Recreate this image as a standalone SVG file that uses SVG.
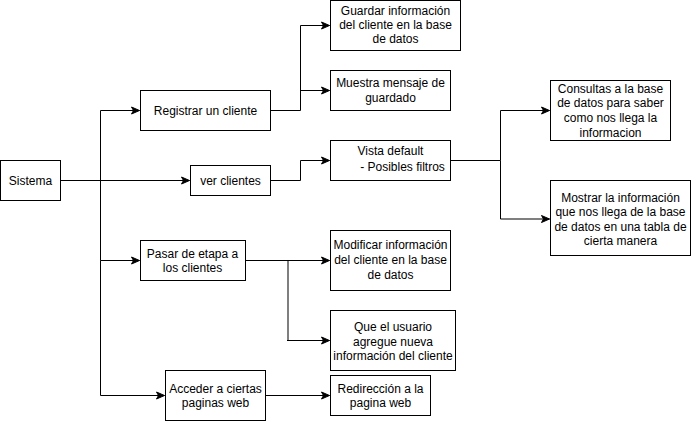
<svg xmlns="http://www.w3.org/2000/svg" width="692" height="421" viewBox="0 0 692 421">
<style>
.box{fill:#fff;stroke:#000;stroke-width:1}
.t{font-family:"Liberation Sans",Arial,sans-serif;font-size:12px;fill:#000;text-anchor:middle}
.c{fill:none;stroke:#000;stroke-width:1}
.g{stroke:#000;stroke-opacity:0.5;stroke-width:2}
</style>
<defs>
<marker id="a" markerUnits="userSpaceOnUse" markerWidth="10" markerHeight="10" refX="9" refY="5" orient="auto">
<path d="M1,1.5 L9,5 L1,8.5 L3,5 Z" fill="#000" stroke="#000" stroke-width="1"/>
</marker>
</defs>
<rect width="692" height="421" fill="#fff"/>
<g id="connectors">
<path class="c" d="M60.5,180.5 H189.5" marker-end="url(#a)"/>
<path class="c" d="M100.5,180.5 V110.5 H139.5" marker-end="url(#a)"/>
<path class="c" d="M100.5,180.5 V260.5 H139.5" marker-end="url(#a)"/>
<path class="c" d="M100.5,260.5 V395.5 H164.5" marker-end="url(#a)"/>
<path class="c" d="M270.5,110.5 H300.5 V25.5 H329.5" marker-end="url(#a)"/>
<path class="c" d="M300.5,90.5 H329.5" marker-end="url(#a)"/>
<path class="c" d="M270.5,180.5 H300.5 V160.5 H329.5" marker-end="url(#a)"/>
<path class="c" d="M450.5,160.5 H500.5 V110.5 H549.5" marker-end="url(#a)"/>
<path class="c" d="M500.5,160.5 V219" />
<path class="c g" d="M500.5,219 H540"/>
<path class="c" d="M540,219 H549.5" marker-end="url(#a)"/>
<path class="c" d="M245.5,260.5 H329.5" marker-end="url(#a)"/>
<path class="c g" d="M288,260.5 V340"/>
<path class="c" d="M287,340.5 H329.5" marker-end="url(#a)"/>
<path class="c" d="M265.5,395.5 H329.5" marker-end="url(#a)"/>
</g>
<g id="sistema"><rect class="box" x="0.5" y="160.5" width="60" height="40"/><text class="t" x="30.5" y="184.5">Sistema</text></g>
<g id="registrar"><rect class="box" x="140.5" y="90.5" width="130" height="40"/><text class="t" x="205.5" y="114.5">Registrar un cliente</text></g>
<g id="ver"><rect class="box" x="190.5" y="165.5" width="80" height="30"/><text class="t" x="230.5" y="184.5">ver clientes</text></g>
<g id="pasar"><rect class="box" x="140.5" y="240.5" width="105" height="40"/><text class="t" x="192.5" y="257.5">Pasar de etapa a</text><text class="t" x="192.5" y="272">los clientes</text></g>
<g id="acceder"><rect class="box" x="165.5" y="370.5" width="100" height="50"/><text class="t" x="215.5" y="392.5">Acceder a ciertas</text><text class="t" x="215.5" y="407">paginas web</text></g>
<g id="guardar"><rect class="box" x="330.5" y="0.5" width="130" height="50"/><text class="t" x="395.5" y="14.5">Guardar información</text><text class="t" x="395.5" y="29">del cliente en la base</text><text class="t" x="395.5" y="43">de datos</text></g>
<g id="muestra"><rect class="box" x="330.5" y="70.5" width="120" height="40"/><text class="t" x="390.5" y="86.5">Muestra mensaje de</text><text class="t" x="390.5" y="102">guardado</text></g>
<g id="vista"><rect class="box" x="330.5" y="140.5" width="120" height="40"/><text class="t" x="390.5" y="154.5">Vista default</text><text class="t" x="402.5" y="170.5">- Posibles filtros</text></g>
<g id="consultas"><rect class="box" x="550.5" y="80.5" width="120" height="60"/><text class="t" x="610.5" y="92.5">Consultas a la base</text><text class="t" x="610.5" y="107">de datos para saber</text><text class="t" x="610.5" y="122">como nos llega la</text><text class="t" x="610.5" y="136.5">informacion</text></g>
<g id="mostrar"><rect class="box" x="550.5" y="180.5" width="140" height="75"/><text class="t" x="620.5" y="201.5">Mostrar la información</text><text class="t" x="620.5" y="216">que nos llega de la base</text><text class="t" x="620.5" y="230.5">de datos en una tabla de</text><text class="t" x="620.5" y="244.5">cierta manera</text></g>
<g id="modificar"><rect class="box" x="330.5" y="230.5" width="120" height="60"/><text class="t" x="390.5" y="249">Modificar información</text><text class="t" x="390.5" y="264">del cliente en la base</text><text class="t" x="390.5" y="279">de datos</text></g>
<g id="usuario"><rect class="box" x="330.5" y="310.5" width="125" height="60"/><text class="t" x="393" y="331">Que el usuario</text><text class="t" x="393" y="345.5">agregue nueva</text><text class="t" x="393" y="359.5">información del cliente</text></g>
<g id="redireccion"><rect class="box" x="330.5" y="375.5" width="100" height="40"/><text class="t" x="380.5" y="392.5">Redirección a la</text><text class="t" x="380.5" y="407">pagina web</text></g>
</svg>
